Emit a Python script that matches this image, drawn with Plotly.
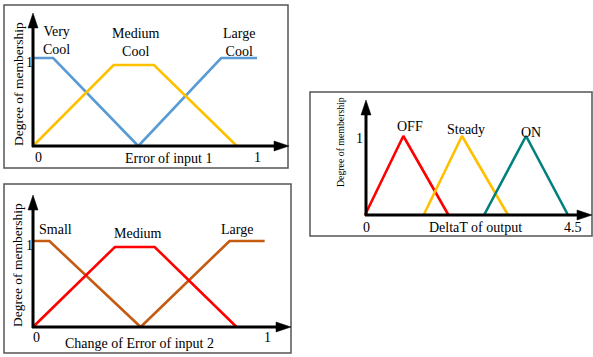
import plotly.graph_objects as go

W, H = 593, 357

# ---------------- data ----------------
# Panel 1: Error of input 1
p1_vc_x = [0, 0.09, 0.47]
p1_vc_y = [1, 1, 0]
p1_mc_x = [0, 0.36, 0.54, 0.91]
p1_mc_y = [0, 0.92, 0.92, 0]
p1_lc_x = [0.47, 0.84, 1.0]
p1_lc_y = [0, 1, 1]
p1_labels = ["Very<br>Cool", "Medium<br>Cool", "Large<br>Cool"]
p1_xticks = [0, 1]
p1_xtick_text = ["0", "1"]
p1_xtitle = "Error of input 1"

# Panel 2: Change of Error of input 2
p2_s_x = [0, 0.07, 0.46]
p2_s_y = [1, 1, 0]
p2_m_x = [0, 0.35, 0.52, 0.87]
p2_m_y = [0, 0.93, 0.93, 0]
p2_l_x = [0.46, 0.84, 0.99]
p2_l_y = [0, 1, 1]
p2_labels = ["Small", "Medium", "Large"]
p2_xticks = [0, 1]
p2_xtick_text = ["0", "1"]
p2_xtitle = "Change of Error of input 2"

# Panel 3: DeltaT of output
p3_off_x = [0, 0.85, 1.85]
p3_off_y = [0, 1, 0]
p3_st_x = [1.3, 2.15, 3.17]
p3_st_y = [0, 1, 0]
p3_on_x = [2.64, 3.57, 4.5]
p3_on_y = [0, 1, 0]
p3_labels = ["OFF", "Steady", "ON"]
p3_xticks = [0, 4.5]
p3_xtick_text = ["0", "4.5"]
p3_xtitle = "DeltaT of output"

ytick_text = "1"
ytitle = "Degree of membership"

FONT = "Liberation Serif"
FS = 14


def P(x):
    return x / W


def Q(y):
    return 1 - y / H


def xax(px0, px1, c0px, c0v, c1px, c1v):
    s = (c1px - c0px) / (c1v - c0v)
    return dict(domain=[P(px0), P(px1)],
                range=[c0v + (px0 - c0px) / s, c0v + (px1 - c0px) / s],
                visible=False, fixedrange=True)


def yax(py0, py1, c0py, c0v, c1py, c1v):
    s = (c0py - c1py) / (c1v - c0v)
    vb = c0v + (c0py - py1) / s
    vt = c0v + (c0py - py0) / s
    return dict(domain=[Q(py1), Q(py0)], range=[vb, vt],
                visible=False, fixedrange=True)


fig = go.Figure()

BLUE = "#5B9BD5"
YEL = "#FFC000"
RED = "#FF0000"
BROWN = "#C55A11"
TEAL = "#00807F"
LW = 2.6

def add(x, y, c, ax):
    fig.add_trace(go.Scatter(x=x, y=y, mode="lines", line=dict(color=c, width=LW),
                             xaxis="x" + ax, yaxis="y" + ax, showlegend=False,
                             hoverinfo="skip"))

add(p1_vc_x, p1_vc_y, BLUE, "")
add(p1_lc_x, p1_lc_y, BLUE, "")
add(p1_mc_x, p1_mc_y, YEL, "")
add(p2_s_x, p2_s_y, BROWN, "2")
add(p2_l_x, p2_l_y, BROWN, "2")
add(p2_m_x, p2_m_y, RED, "2")
add(p3_off_x, p3_off_y, RED, "3")
add(p3_st_x, p3_st_y, YEL, "3")
add(p3_on_x, p3_on_y, TEAL, "3")

boxes = [(4, 5, 288, 168), (4, 184, 291, 353), (310, 92, 592, 236)]
axes_px = [
    (33, 146, 13, 289),
    (33, 327, 195, 291),
    (366, 215, 100, 592),
]

layout_axes = dict(
    xaxis=xax(4, 288, 33, 0, 257, 1),
    yaxis=yax(5, 168, 146, 0, 58, 1),
    xaxis2=xax(4, 291, 33, 0, 267, 1),
    yaxis2=yax(184, 353, 327, 0, 241, 1),
    xaxis3=xax(310, 592, 365, 0, 568, 4.5),
    yaxis3=yax(92, 236, 215, 0, 136, 1),
)
for k in ["xaxis2", "xaxis3"]:
    layout_axes[k]["anchor"] = "y" + k[-1]
for k in ["yaxis2", "yaxis3"]:
    layout_axes[k]["anchor"] = "x" + k[-1]

shapes = []
for (x0, y0, x1, y1) in boxes:
    shapes.append(dict(type="rect", xref="paper", yref="paper",
                       x0=P(x0), x1=P(x1), y0=Q(y1), y1=Q(y0),
                       line=dict(color="#555555", width=1.5), layer="below"))

for (ax_x, ax_y, ytip, xtip) in axes_px:
    shapes.append(dict(type="line", xref="paper", yref="paper",
                       x0=P(ax_x), x1=P(ax_x), y0=Q(ax_y + 1), y1=Q(ytip + 10),
                       line=dict(color="black", width=3)))
    shapes.append(dict(type="line", xref="paper", yref="paper",
                       x0=P(ax_x - 1), x1=P(xtip - 10), y0=Q(ax_y), y1=Q(ax_y),
                       line=dict(color="black", width=3)))
    shapes.append(dict(type="path", xref="paper", yref="paper",
                       path=f"M {P(ax_x)} {Q(ytip)} L {P(ax_x - 5)} {Q(ytip + 15)} L {P(ax_x + 5)} {Q(ytip + 15)} Z",
                       fillcolor="black", line=dict(color="black", width=0.5)))
    shapes.append(dict(type="path", xref="paper", yref="paper",
                       path=f"M {P(xtip)} {Q(ax_y)} L {P(xtip - 15)} {Q(ax_y - 5)} L {P(xtip - 15)} {Q(ax_y + 5)} Z",
                       fillcolor="black", line=dict(color="black", width=0.5)))

ann = []

def txt(t, x, y, xref="paper", yref="paper", angle=0, xshift=0, yshift=0, size=FS):
    ann.append(dict(text=t, x=x, y=y, xref=xref, yref=yref, showarrow=False,
                    xanchor="center", yanchor="middle", textangle=angle,
                    xshift=xshift, yshift=yshift,
                    font=dict(family=FONT, size=size, color="black")))

txt(ytitle, P(18), Q(84), angle=-90, size=13.5)
txt(ytitle, P(17), Q(265), angle=-90, size=13.5)
txt(ytitle, P(341), Q(142), angle=-90, size=9.8)
txt(ytick_text, P(29), Q(62))
txt(ytick_text, P(29), Q(245))
txt(ytick_text, P(359), Q(139))

for v, t in zip(p1_xticks, p1_xtick_text):
    txt(t, v, Q(157), xref="x", xshift=5 if v == 0 else 0)
for v, t in zip(p2_xticks, p2_xtick_text):
    txt(t, v, Q(337), xref="x2", xshift=3 if v == 0 else 0)
for v, t in zip(p3_xticks, p3_xtick_text):
    txt(t, v, Q(228), xref="x3", xshift=1 if v == 0 else 5)

txt(p1_xtitle, P(168), Q(158))
txt(p2_xtitle, P(139), Q(343))
txt(p3_xtitle, P(475), Q(227))

for t, (x, y) in zip(p1_labels, [(57, 40), (136, 42), (239, 42)]):
    txt(t, P(x), Q(y))
for t, (x, y) in zip(p2_labels, [(55, 229), (138, 233), (237, 229)]):
    txt(t, P(x), Q(y))
for t, (x, y) in zip(p3_labels, [(410, 126), (466, 129), (531, 132)]):
    txt(t, P(x), Q(y))

fig.update_layout(
    width=W, height=H,
    margin=dict(l=0, r=0, t=0, b=0, pad=0),
    paper_bgcolor="white", plot_bgcolor="rgba(0,0,0,0)",
    shapes=shapes, annotations=ann, showlegend=False,
    **layout_axes,
)

fig.write_html("out.html", config={"displayModeBar": False},
               post_script="document.body.style.margin='0';document.body.style.overflow='hidden';")
